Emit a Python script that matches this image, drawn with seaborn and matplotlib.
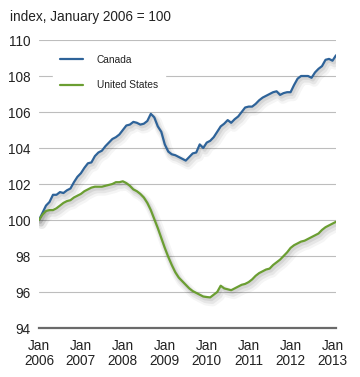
import numpy as np
import pandas as pd
import matplotlib
matplotlib.use("Agg")
import matplotlib.pyplot as plt
import matplotlib.patheffects as pe
import seaborn as sns

# monthly index, Jan 2006 .. Feb 2013 (Jan 2006 = 100)
canada = [100.0, 100.4, 100.8, 101.0, 101.4, 101.4, 101.55, 101.5, 101.65, 101.75,
          102.1, 102.4, 102.6, 102.9, 103.15, 103.2, 103.55, 103.75, 103.85, 104.1,
          104.3, 104.5, 104.6, 104.75, 105.0, 105.25, 105.3, 105.45, 105.4, 105.3,
          105.35, 105.5, 105.9, 105.7, 105.2, 104.9, 104.2, 103.8, 103.65, 103.6,
          103.5, 103.4, 103.3, 103.5, 103.7, 103.75, 104.2, 104.0, 104.3, 104.4,
          104.6, 104.9, 105.2, 105.35, 105.55, 105.4, 105.6, 105.75, 106.0, 106.25,
          106.3, 106.3, 106.45, 106.65, 106.8, 106.9, 107.0, 107.1, 107.15, 106.95,
          107.05, 107.1, 107.1, 107.5, 107.85, 108.0, 108.0, 108.0, 107.9, 108.2,
          108.4, 108.55, 108.9, 108.95, 108.85, 109.15]
united_states = [100.0, 100.3, 100.5, 100.55, 100.55, 100.65, 100.8, 100.95, 101.05, 101.1,
                 101.25, 101.35, 101.45, 101.6, 101.7, 101.8, 101.85, 101.85, 101.85, 101.9,
                 101.95, 102.0, 102.1, 102.1, 102.15, 102.05, 101.9, 101.7, 101.6, 101.45,
                 101.25, 100.95, 100.55, 100.05, 99.55, 99.0, 98.45, 97.95, 97.5, 97.1,
                 96.8, 96.6, 96.4, 96.2, 96.05, 95.95, 95.85, 95.75, 95.72, 95.7,
                 95.85, 96.0, 96.35, 96.2, 96.15, 96.1, 96.2, 96.3, 96.4, 96.45,
                 96.55, 96.7, 96.9, 97.05, 97.15, 97.25, 97.3, 97.5, 97.65, 97.8,
                 98.0, 98.2, 98.45, 98.6, 98.7, 98.8, 98.85, 98.95, 99.05, 99.15,
                 99.25, 99.45, 99.6, 99.7, 99.8, 99.9]
tick_labels = ["Jan\n2006", "Jan\n2007", "Jan\n2008", "Jan\n2009",
               "Jan\n2010", "Jan\n2011", "Jan\n2012", "Jan\n2013"]
y_ticks = [94, 96, 98, 100, 102, 104, 106, 108, 110]

months = np.arange(len(canada))
df = pd.DataFrame({
    "month": np.concatenate([months, months]),
    "index": canada + united_states,
    "country": ["Canada"] * len(canada) + ["United States"] * len(united_states),
})

sns.set_style("white")
plt.rcParams["font.family"] = ["Liberation Sans", "DejaVu Sans"]

fig = plt.figure(figsize=(3.6, 3.77), dpi=100)
ax = fig.add_axes([39 / 360, 1 - 328 / 377, 297 / 360, 288 / 377])

# soft drop shadow under the lines
shadow = [pe.SimpleLineShadow(offset=(2, -3), shadow_color="#000000", alpha=0.04, linewidth=7),
          pe.SimpleLineShadow(offset=(1.5, -2.5), shadow_color="#000000", alpha=0.06, linewidth=4.5),
          pe.SimpleLineShadow(offset=(1, -1.5), shadow_color="#000000", alpha=0.07, linewidth=2.5),
          pe.Normal()]
sns.lineplot(data=df, x="month", y="index", hue="country", ax=ax,
             palette={"Canada": "#2e6399", "United States": "#6b9e32"},
             linewidth=1.6, path_effects=shadow, zorder=3)

ax.set_xlim(0, 85)
ax.set_ylim(94, 110)
ax.set_xticks(np.arange(0, 85, 12))
ax.set_xticklabels(tick_labels, fontsize=9.8, color="#222222", linespacing=1.1)
ax.set_yticks(y_ticks)
ax.set_yticklabels([str(v) for v in y_ticks], fontsize=9.8, color="#222222")
ax.set_xlabel("")
ax.set_ylabel("")
ax.tick_params(axis="y", length=0, pad=6)
ax.tick_params(axis="x", length=3, width=0.8, color="#888888", direction="out", pad=5)

for v in y_ticks[1:]:
    ax.axhline(v, color="#bdbdbd", linewidth=0.8, zorder=1)

for s in ["top", "right", "left"]:
    ax.spines[s].set_visible(False)
ax.spines["bottom"].set_color("#6a6a6a")
ax.spines["bottom"].set_linewidth(1.6)

leg = ax.legend(loc="center left", bbox_to_anchor=(0.047, 0.887), borderaxespad=0,
                frameon=True, fontsize=7.3, handlelength=2.3, handletextpad=1.3,
                labelspacing=1.5, borderpad=0.7)
leg.get_frame().set_facecolor("white")
leg.get_frame().set_edgecolor("white")
leg.get_frame().set_alpha(1)
for line in leg.get_lines():
    line.set_linewidth(1.6)
    line.set_path_effects([pe.Normal()])
for t in leg.get_texts():
    t.set_color("#222222")

fig.text(10 / 360, 1 - 17 / 377, "index, January 2006 = 100", fontsize=9.8,
         color="#222222", va="center", ha="left")

fig.savefig("out.png", dpi=100)
